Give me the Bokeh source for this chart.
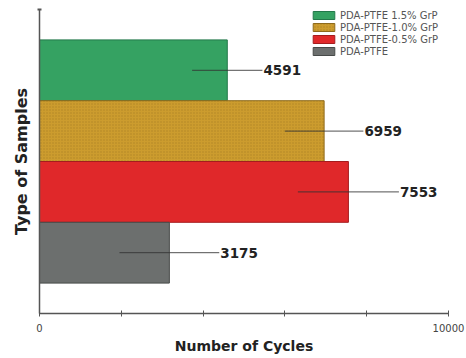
from bokeh.plotting import figure
from bokeh.models import ColumnDataSource, Range1d, FixedTicker, Legend, LegendItem
from bokeh.core.properties import value
from bokeh.embed import file_html
from bokeh.resources import INLINE

# ---- data (top to bottom as drawn) ----
samples = ["PDA-PTFE 1.5% GrP", "PDA-PTFE-1.0% GrP", "PDA-PTFE-0.5% GrP", "PDA-PTFE"]
cycles = [4591, 6959, 7553, 3175]
errors = [860, 960, 1235, 1220]
colors = ["#35a262", "#cc9c2e", "#e0282a", "#6c6f6e"]
edges = ["#23784a", "#8e6a1c", "#a51c1e", "#474a49"]
hatches = [" ", "dot", " ", " "]
x_ticks = [0, 2000, 4000, 6000, 8000, 10000]
x_tick_labels = {0: "0", 10000: "10000"}

n = len(samples)
ypos = [n - i for i in range(n)]
src = ColumnDataSource(dict(
    y=ypos, x=cycles, name=samples, color=colors, edge=edges, hatch=hatches,
    lo=[c - e for c, e in zip(cycles, errors)],
    hi=[c + e for c, e in zip(cycles, errors)],
    label=[str(c) for c in cycles],
))

FONT = "DejaVu Sans"

p = figure(width=466, height=358, output_backend="svg", toolbar_location=None,
           x_range=Range1d(0, 10000), y_range=Range1d(0, n + 1),
           min_border_left=39, min_border_right=18, min_border_top=9, min_border_bottom=45)
p.outline_line_color = None
p.xgrid.visible = False
p.ygrid.visible = False
p.background_fill_color = "white"
p.border_fill_color = "white"

r = p.hbar(y="y", right="x", left=0, height=1.0, source=src,
           fill_color="color", line_color="edge", line_width=1,
           hatch_pattern="hatch", hatch_color="#7a5a10", hatch_alpha=0.35, hatch_scale=3)

p.segment(x0="lo", y0="y", x1="hi", y1="y", source=src, line_color="#333333",
          line_width=1, line_alpha=0.85)
p.text(x="hi", y="y", text="label", source=src, x_offset=1,
       text_font=value(FONT), text_font_style="bold", text_font_size="13.5px",
       text_color="#222222", text_baseline="middle", text_align="left")

# x axis
xa = p.xaxis[0]
xa.ticker = FixedTicker(ticks=x_ticks)
xa.major_label_overrides = {t: x_tick_labels.get(t, "") for t in x_ticks}
xa.minor_tick_line_color = None
xa.major_tick_in = 3
xa.major_tick_out = 3
xa.axis_line_color = "#555555"
xa.axis_line_width = 1.5
xa.major_tick_line_color = "#555555"
xa.major_label_standoff = 7
xa.major_label_text_font = FONT
xa.major_label_text_font_size = "10px"
xa.major_label_text_color = "#444444"
xa.axis_label = "Number of Cycles"
xa.axis_label_text_font = FONT
xa.axis_label_text_font_style = "bold"
xa.axis_label_text_font_size = "14px"
xa.axis_label_text_color = "#222222"
xa.axis_label_standoff = 3

# y axis
ya = p.yaxis[0]
ya.ticker = FixedTicker(ticks=[n + 1])
ya.major_label_overrides = {n + 1: ""}
ya.major_label_text_font_size = "1px"
ya.major_label_standoff = 0
ya.minor_tick_line_color = None
ya.major_tick_in = 2
ya.major_tick_out = 2
ya.major_tick_line_width = 2
ya.axis_line_color = "#555555"
ya.axis_line_width = 1.5
ya.major_tick_line_color = "#555555"
ya.axis_label = "Type of Samples"
ya.axis_label_text_font = FONT
ya.axis_label_text_font_style = "bold"
ya.axis_label_text_font_size = "16px"
ya.axis_label_text_color = "#222222"
ya.axis_label_standoff = 7

items = [LegendItem(label=s, renderers=[r], index=i) for i, s in enumerate(samples)]
legend = Legend(items=items, location=(271, 256), orientation="vertical",
                glyph_width=27, glyph_height=10, label_height=12, spacing=0,
                padding=0, margin=0, label_standoff=3,
                label_text_font=FONT, label_text_font_size="10px",
                label_text_color="#555555", border_line_color=None,
                background_fill_alpha=0)
p.add_layout(legend)

open("out.html", "w").write(file_html(p, INLINE))
